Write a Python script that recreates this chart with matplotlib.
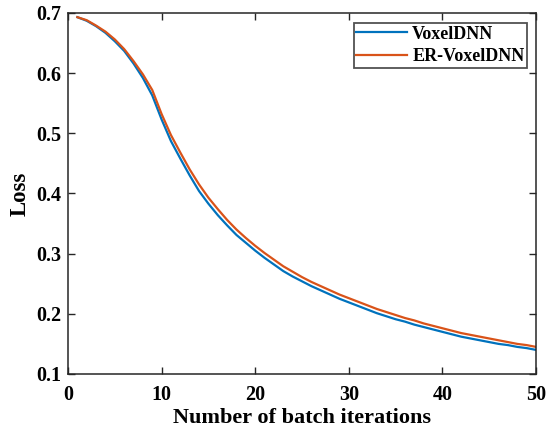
import matplotlib
matplotlib.use("Agg")
import matplotlib.pyplot as plt
import numpy as np

iterations = list(range(1, 51))
voxeldnn = [0.693, 0.687, 0.678, 0.667, 0.653, 0.637, 0.616, 0.592, 0.563, 0.523,
            0.487, 0.458, 0.430, 0.404, 0.383, 0.364, 0.347, 0.331, 0.318, 0.305,
            0.293, 0.282, 0.271, 0.262, 0.254, 0.246, 0.239, 0.232, 0.225, 0.219,
            0.213, 0.207, 0.201, 0.196, 0.191, 0.187, 0.182, 0.178, 0.174, 0.170,
            0.166, 0.162, 0.159, 0.156, 0.153, 0.150, 0.148, 0.145, 0.143, 0.140]
er_voxeldnn = [0.693, 0.688, 0.679, 0.669, 0.656, 0.640, 0.620, 0.598, 0.572, 0.532,
               0.497, 0.468, 0.440, 0.415, 0.393, 0.374, 0.356, 0.340, 0.326, 0.313,
               0.301, 0.290, 0.279, 0.270, 0.261, 0.253, 0.246, 0.239, 0.232, 0.226,
               0.220, 0.214, 0.208, 0.203, 0.198, 0.193, 0.189, 0.184, 0.180, 0.176,
               0.172, 0.168, 0.165, 0.162, 0.159, 0.156, 0.153, 0.150, 0.148, 0.145]
xticks = [0, 10, 20, 30, 40, 50]
yticks = [0.1, 0.2, 0.3, 0.4, 0.5, 0.6, 0.7]

plt.rcParams['font.family'] = ['Liberation Serif', 'DejaVu Serif']
plt.rcParams['font.weight'] = 'bold'

fig = plt.figure(figsize=(5.47, 4.32), dpi=100)
ax = fig.add_axes([0.1243, 0.1343, 0.8557, 0.8357])

ax.plot(iterations, voxeldnn, color=(0, 0.447, 0.741), lw=1.6, label='VoxelDNN')
ax.plot(iterations, er_voxeldnn, color=(0.85, 0.325, 0.098), lw=1.6, label='ER-VoxelDNN')

ax.set_xlim(0, 50)
ax.set_ylim(0.1, 0.7)
ax.set_xticks(xticks)
ax.set_yticks(yticks)
ax.set_xticklabels([str(t) for t in xticks])
ax.set_yticklabels([f"{t:.1f}" for t in yticks])
ax.tick_params(direction='in', top=True, right=True, length=5, width=1,
               labelsize=14.5, color='#262626')
ax.tick_params(axis='x', pad=8)
ax.tick_params(axis='y', pad=5)
for lab in ax.get_xticklabels() + ax.get_yticklabels():
    lab.set_fontweight('bold')
for s in ax.spines.values():
    s.set_color('#262626')
    s.set_linewidth(1.1)

ax.set_xlabel('Number of batch iterations', fontsize=16, fontweight='bold', labelpad=2)
ax.set_ylabel('Loss', fontsize=16.5, fontweight='bold', labelpad=4)

leg = ax.legend(loc='upper right', bbox_to_anchor=(0.981, 0.972), fontsize=13,
                frameon=True, fancybox=False, edgecolor='#262626',
                handlelength=2.8, borderaxespad=0.0,
                borderpad=0.15, labelspacing=0.3, handletextpad=0.3)
leg.get_frame().set_linewidth(1.3)
for t in leg.get_texts():
    t.set_fontweight('bold')

fig.savefig('out.png', dpi=100)
